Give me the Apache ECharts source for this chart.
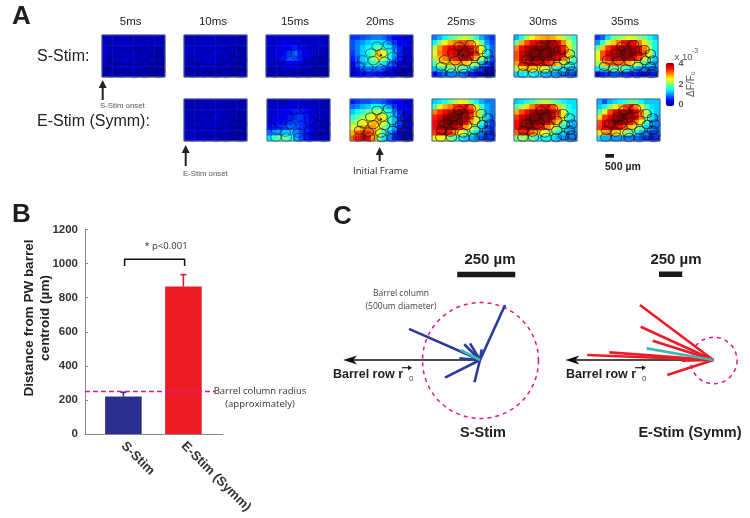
<!DOCTYPE html>
<html><head><meta charset="utf-8">
<style>html,body{margin:0;padding:0;background:#fff}#c{width:750px;height:518px}</style>
<script src="https://cdn.jsdelivr.net/npm/echarts@6/dist/echarts.min.js"></script>
</head><body><div id="c"></div>
<script>
// ---------- DATA ----------
const S05 = [
.2,.25,.2,.25,.25,.2,.25,.2,.25,.25,.2,.2,  .3,.2,.25,.25,.3,.25,.25,.25,.25,.2,.25,.2,
.3,.2,.25,.25,.3,.3,.25,.25,.25,.25,.25,.2,  .3,.25,.25,.3,.3,.3,.3,.25,.25,.25,.2,.2,
.25,.2,.25,.3,.3,.3,.25,.25,.25,.25,.2,.2,   .25,.2,.25,.25,.25,.25,.25,.25,.25,.2,.2,.2,
.2,.2,.25,.25,.25,.25,.25,.2,.2,.2,.2,.2,    .2,.2,.2,.2,.2,.2,.2,.2,.2,.2,.2,.2];
const S10 = [
.2,.2,.2,.25,.25,.25,.25,.25,.25,.2,.2,.2,   .25,.2,.25,.25,.3,.3,.3,.25,.25,.25,.2,.2,
.25,.25,.25,.3,.3,.3,.3,.3,.25,.25,.2,.2,    .25,.25,.3,.3,.3,.35,.35,.3,.25,.25,.2,.2,
.25,.25,.3,.3,.3,.35,.3,.25,.25,.25,.2,.2,   .25,.25,.25,.3,.3,.3,.25,.25,.25,.2,.2,.2,
.2,.2,.25,.25,.25,.25,.25,.25,.2,.2,.2,.2,   .2,.2,.2,.2,.2,.2,.2,.2,.2,.2,.2,.2];
const S15 = [
.3,.3,.3,.3,.3,.3,.3,.3,.3,.3,.2,.2,  .3,.3,.3,.4,.4,.4,.4,.3,.3,.3,.3,.2,
.3,.3,.4,.4,.5,.6,.5,.4,.3,.3,.3,.2,  .3,.3,.4,.5,.7,.9,.6,.5,.4,.3,.3,.2,
.3,.3,.4,.6,.8,.8,.6,.4,.3,.3,.2,.2,  .3,.3,.3,.4,.5,.5,.4,.3,.3,.2,.2,.2,
.2,.2,.3,.3,.3,.3,.3,.3,.2,.2,.2,.2,  .2,.2,.2,.2,.2,.2,.2,.2,.2,.2,.2,.2];
const S20 = [
.7,.7,.8,.9,1,1,.9,.7,.5,.4,.3,.3,         .8,1,1.1,1.3,1.4,1.4,1.3,1,.7,.5,.4,.3,
.8,1,1.3,1.5,1.7,1.9,1.7,1.4,1,.6,.4,.3,   .7,1,1.3,1.6,2,2.7,2.5,1.7,1.1,.7,.4,.3,
.6,.9,1.3,1.7,2.1,2.6,2.2,1.6,1,.6,.4,.3,  .4,.8,1.2,1.5,1.7,1.7,1.4,1,.7,.4,.3,.3,
.3,.6,.9,1,1,1,.8,.6,.4,.3,.3,.2,          .3,.4,.5,.6,.6,.5,.4,.3,.3,.2,.2,.2];
const S25 = [
1,1.2,1.5,1.8,2,2.2,2.3,2.1,1.7,1.2,.9,.7,      1.5,2,2.5,2.8,3,3.2,3.2,3,2.5,1.9,1.1,.8,
2.2,2.9,3.3,3.5,3.6,3.8,3.8,3.6,3.1,2.4,1.4,.9, 2.4,3,3.3,3.5,3.7,3.9,3.9,3.8,3.3,2.5,1.6,.9,
2.2,2.8,3,3.2,3.4,3.7,3.8,3.4,2.8,2.2,1.4,.8,   1.8,2.3,2.6,2.7,2.8,2.9,2.7,2.4,2,1.3,.9,.6,
1.2,1.6,1.8,1.9,2,1.9,1.7,1.4,1,.7,.5,.3,       .5,.7,.9,1,1,1,.8,.6,.5,.3,.2,.2];
const S30 = [
1.2,1.6,2.2,2.5,2.7,2.8,2.9,2.8,2.6,2.2,2,1.7,  1.9,2.8,3.2,3.5,3.6,3.8,3.9,3.8,3.5,3,2.3,1.8,
3,3.5,3.8,3.9,4,4,4,3.9,3.8,3.4,2.6,1.9,        3.2,3.7,3.9,4,4,4,4,4,3.8,3.5,2.7,1.9,
3.2,3.7,3.9,4,4,4,3.9,3.8,3.6,3.1,2.4,1.8,      2.9,3.4,3.6,3.7,3.7,3.6,3.4,3.1,2.7,2.2,1.8,1.5,
2.2,2.6,2.7,2.7,2.6,2.4,2.2,1.9,1.6,1.4,1.3,1.2,1.3,1.4,1.5,1.5,1.4,1.3,1.2,1.1,1,.9,.9,.8];
const S35 = [
.7,.9,1.4,1.9,2.1,2.2,2.4,2.3,2.1,1.9,1.6,1.3,  1.1,1.7,2.3,2.7,3,3.4,3.6,3.5,3,2.6,2,1.5,
1.9,2.7,3.3,3.6,3.8,3.9,3.9,3.8,3.6,3,2.2,1.5,  2.4,3.2,3.6,3.8,3.9,4,4,3.9,3.7,3.2,2.3,1.5,
2.4,3.2,3.5,3.7,3.8,3.9,3.8,3.6,3.2,2.6,1.9,1.3,2.1,2.7,2.9,3.1,3.1,3,2.8,2.4,2.1,1.7,1.4,1.1,
1.4,1.7,1.9,1.9,1.9,1.8,1.5,1.3,1.1,1,.9,.9,    .4,.6,.7,.8,.8,.7,.6,.6,.5,.5,.6,.6];
const E10 = [
.2,.2,.2,.2,.2,.2,.25,.2,.2,.2,.2,.2,      .2,.2,.2,.25,.25,.25,.25,.25,.2,.2,.2,.2,
.25,.2,.25,.25,.25,.3,.3,.25,.25,.2,.2,.2, .25,.25,.25,.25,.3,.3,.3,.25,.25,.2,.2,.2,
.25,.25,.25,.3,.3,.3,.3,.25,.25,.2,.2,.2,  .25,.25,.3,.3,.3,.3,.25,.25,.2,.2,.2,.2,
.3,.3,.3,.3,.3,.25,.25,.25,.2,.2,.2,.2,    .3,.3,.3,.3,.25,.25,.25,.2,.2,.2,.2,.2];
const E15 = [
.2,.2,.2,.2,.3,.3,.3,.3,.3,.2,.2,.2,       .3,.3,.3,.3,.4,.4,.4,.3,.3,.3,.2,.2,
.3,.3,.4,.5,.5,.6,.6,.5,.4,.3,.3,.2,       .3,.4,.4,.5,.6,.7,.7,.6,.4,.3,.3,.2,
.3,.4,.5,.6,.7,.8,.7,.6,.4,.3,.3,.2,       .5,.6,.7,.8,.9,.9,.7,.6,.4,.3,.3,.2,
.9,1.1,1.2,1.3,1.3,1,.8,.6,.4,.3,.3,.2,    1.4,1.7,1.9,1.9,1.7,1.2,.8,.6,.4,.3,.3,.3];
const E20 = [
.6,.7,.8,.8,.9,.9,.8,.6,.5,.4,.3,.3,            .9,1,1.2,1.3,1.5,1.5,1.3,1.1,.7,.5,.4,.3,
1.3,1.5,1.7,1.9,2.1,2.2,1.9,1.5,1.1,.6,.4,.3,   1.7,1.9,2.1,2.3,2.5,2.7,2.4,1.8,1.2,.7,.4,.3,
2,2.2,2.4,2.6,2.8,2.8,2.4,1.8,1.2,.7,.4,.3,     2.4,2.6,2.8,3,2.9,2.5,2,1.5,1.1,.6,.4,.3,
2.8,3.1,3.3,3.3,3,2.4,1.7,1.2,.8,.5,.4,.3,      3.1,3.5,3.7,3.6,2.9,2.1,1.4,1,.6,.5,.3,.3];
const E25 = [
1.3,1.4,1.6,1.9,2.2,2.4,2.3,1.9,1.5,1.2,1,1,    1.7,2.4,2.8,3,3.3,3.4,3.5,3.1,2.4,1.7,1.2,1,
3,3.3,3.5,3.7,3.9,4,3.9,3.5,2.7,2,1.2,1,        3.4,3.6,3.9,4,4,4,3.9,3.3,2.6,2,1.3,.9,
3.5,3.8,4,4,4,3.9,3.5,2.9,2.3,1.7,1.1,.7,       3.5,3.8,3.9,3.9,3.8,3.4,2.9,2.4,1.9,1.3,.9,.7,
3.3,3.5,3.6,3.4,2.9,2.5,2.1,1.8,1.4,1,.8,.6,    2.4,2.5,2.4,2.1,1.8,1.5,1.3,1.2,1,.8,.7,.7];
const E30 = [
1.3,1.4,1.6,1.8,2,2.2,2.2,2,1.8,1.5,1.4,1.4,    1.8,2.1,2.6,3,3.3,3.5,3.5,3.2,2.7,2.1,1.6,1.4,
2.8,3.2,3.5,3.8,3.9,4,4,3.7,3.3,2.4,1.7,1.5,    3.3,3.7,3.9,4,4,4,4,3.7,3.1,2.4,1.6,1.4,
3.5,3.8,4,4,4,3.9,3.7,3.2,2.7,2,1.4,1.2,        3.5,3.8,3.9,3.9,3.7,3.4,3,2.5,2,1.6,1.2,1.1,
3.1,3.4,3.4,3.1,2.8,2.5,2.2,1.9,1.5,1.3,1.1,1,  2,2.1,2.1,1.9,1.6,1.5,1.5,1.4,1.2,1.1,1,1];
const E35 = [
1.2,.8,1.2,1.4,1.5,1.7,1.9,1.9,1.5,1.3,1.3,1.3, 1.3,1.5,2,2.4,2.8,3.2,3.4,3,2.4,1.8,1.4,1.3,
1.8,2.5,3.2,3.6,3.8,3.9,3.9,3.6,3.1,2.2,1.5,1.3,2.6,3.3,3.6,3.9,4,4,3.9,3.6,3,2.1,1.4,1.1,
3.2,3.6,3.8,4,4,3.8,3.5,3,2.5,1.7,1.2,1,        3.3,3.6,3.7,3.7,3.5,3.1,2.7,2.2,1.8,1.3,1,.9,
2.6,2.8,2.9,2.7,2.4,2.1,1.9,1.6,1.2,1,.8,.8,    1.4,1.2,1.2,1.1,1.1,1,1,.9,.8,.7,.6,.7];

const timeLabels = ['5ms','10ms','15ms','20ms','25ms','30ms','35ms'];
// barrel centres, % of frame width / height from the top
const barrels = [[61,23],[43,27],[78,35],[88,45],[92,60],[33,43],[51,43],[68,51],[80,61],[88,75],[92,86],
  [20,59],[37,61],[55,63],[68,75],[79,87],[90,92],[15,75],[14,91],[29,79],[31,91],[49,81],[51,92],[67,92]];
const pwDot = [[49,48]];

const categories = ['S-Stim','E-Stim (Symm)'];
const distance = [220,865];
const errorTop = [245,935];
const barrelRadiusUm = 250;

const sVectors = [[108,237],[-306,134],[-68,68],[-43,72],[-151,-76],[-24,-96],[7,46],[-89,7]];
const sMean = [[-83,43]];
const eVectors = [[-789,591],[-781,358],[-652,208],[-1118,82],[-1355,54],[-495,-161],[-340,-7]];
const eMean = [[-717,125]];

// ---------- LAYOUT ----------
const frames = [
 {d:S05,x:102,y:35,f:1},{d:S10,x:184,y:35,f:1},{d:S15,x:266,y:35,f:1},{d:S20,x:350,y:35,f:.6,dot:1},
 {d:S25,x:432,y:35,f:0,dot:1},{d:S30,x:514,y:35,f:0},{d:S35,x:595,y:35,f:0},
 {d:E10,x:184,y:99,f:1},{d:E15,x:267,y:99,f:.7},{d:E20,x:350,y:99,f:0,dot:1},
 {d:E25,x:432,y:99,f:0},{d:E30,x:514,y:99,f:0},{d:E35,x:597,y:99,f:0}];
const FW=63, FH=42, NX=12, NY=8;
const xc=[...Array(NX).keys()].map(String), yc=[...Array(NY).keys()].map(String);

const grid=[], xAxis=[], yAxis=[], series=[], heatIdx=[];
const OB={outerBoundsMode:'none'};
frames.forEach(fr=>{
  const g0=grid.length;
  grid.push({...OB,left:fr.x,top:fr.y,width:FW,height:FH,z:0});
  xAxis.push({type:'category',gridIndex:g0,data:xc,show:false});
  yAxis.push({type:'category',gridIndex:g0,data:yc,inverse:true,show:false});
  heatIdx.push(series.length);
  const cells=[]; fr.d.forEach((v,i)=>cells.push([i%NX,Math.floor(i/NX),v]));
  series.push({type:'heatmap',xAxisIndex:g0,yAxisIndex:g0,data:cells,progressive:0,silent:true,z:1,
    itemStyle:{borderWidth:0},emphasis:{disabled:true}});
  const g1=grid.length;
  grid.push({...OB,left:fr.x,top:fr.y,width:FW,height:FH,show:true,backgroundColor:'transparent',borderColor:'#4f648c',borderWidth:1,z:5});
  xAxis.push({type:'value',gridIndex:g1,min:0,max:100,show:false});
  yAxis.push({type:'value',gridIndex:g1,min:0,max:100,inverse:true,show:false});
  series.push({type:'scatter',xAxisIndex:g1,yAxisIndex:g1,data:barrels,symbol:'circle',symbolSize:[10.5,8.5],silent:true,z:3,
    itemStyle:{color:'rgba(0,0,0,0)',borderColor:fr.f?`rgba(0,0,60,${0.75-0.4*fr.f})`:'rgba(20,20,20,.7)',borderWidth:.9,opacity:1}});
  if(fr.dot) series.push({type:'scatter',xAxisIndex:g1,yAxisIndex:g1,data:pwDot,symbol:'circle',symbolSize:2.5,silent:true,z:4,itemStyle:{color:'#111'}});
});

// Panel B
const gb=grid.length;
grid.push({...OB,left:85,top:229.5,width:138,height:204.5});
xAxis.push({type:'value',gridIndex:gb,min:-0.64,max:1.66,splitLine:{show:false},
  axisLine:{show:true,onZero:false,lineStyle:{color:'#8a8a8a',width:1}},axisTick:{show:false},
  axisLabel:{show:true,customValues:[0,1],rotate:-45,margin:10,formatter:v=>categories[Math.round(v)],
    fontFamily:'Liberation Sans',fontWeight:'bold',fontSize:13,color:'#333'}});
yAxis.push({type:'value',gridIndex:gb,min:0,max:1200,interval:200,splitLine:{show:false},
  axisLine:{show:true,onZero:false,lineStyle:{color:'#8a8a8a',width:1}},axisTick:{show:true,inside:true,length:3,lineStyle:{color:'#8a8a8a'}},
  axisLabel:{formatter:v=>String(v),fontFamily:'Liberation Sans',fontWeight:'bold',fontSize:11.5,color:'#333',margin:7}});
const barColors=['#2b3090','#ed1c24'];
series.push({type:'bar',xAxisIndex:gb,yAxisIndex:gb,barWidth:36.6,silent:true,z:2,
  data:distance.map((v,i)=>({value:[i,v],itemStyle:{color:barColors[i]}}))});
series.push({type:'custom',xAxisIndex:gb,yAxisIndex:gb,silent:true,z:3,
  data:errorTop.map((v,i)=>[i,distance[i],v]),
  renderItem:(p,api)=>{
    const a=api.coord([api.value(0),api.value(1)]), b=api.coord([api.value(0),api.value(2)]);
    const c=barColors[p.dataIndex], s={stroke:c,lineWidth:1.6};
    return {type:'group',children:[
      {type:'line',shape:{x1:a[0],y1:a[1],x2:b[0],y2:b[1]},style:s},
      {type:'line',shape:{x1:b[0]-3,y1:b[1],x2:b[0]+3,y2:b[1]},style:s}]};
  }});
series.push({type:'line',xAxisIndex:gb,yAxisIndex:gb,data:[[-0.64,barrelRadiusUm],[1.53,barrelRadiusUm]],symbol:'none',silent:true,z:4,
  lineStyle:{color:'#e5178f',width:1.5,type:[5,3]}});
series.push({type:'line',xAxisIndex:gb,yAxisIndex:gb,data:[[0.02,986],[0.02,1025],[1.02,1025],[1.02,986]],symbol:'none',silent:true,z:4,
  lineStyle:{color:'#111',width:1.5}});

// Panel C helper
function polarPanel(box,vecs,mean,color,arrowEnd,bar){
  const g=grid.length;
  grid.push({...OB,left:box.left,top:box.top,width:box.width,height:box.height});
  xAxis.push({type:'value',gridIndex:g,min:box.xr[0],max:box.xr[1],show:false});
  yAxis.push({type:'value',gridIndex:g,min:box.yr[0],max:box.yr[1],show:false});
  series.push({type:'custom',xAxisIndex:g,yAxisIndex:g,silent:true,z:2,clip:false,data:[[0,0,barrelRadiusUm]],
    renderItem:(p,api)=>{const c=api.coord([0,0]),r=api.size([api.value(2),0])[0];
      return {type:'circle',shape:{cx:c[0]+.5,cy:c[1]+.5,r},style:{fill:'none',stroke:'#e5178f',lineWidth:1.5,lineDash:[4,4]}};}});
  series.push({type:'custom',xAxisIndex:g,yAxisIndex:g,silent:true,z:3,clip:false,data:[[arrowEnd,0]],
    renderItem:(p,api)=>{const a=api.coord([0,0]),b=api.coord([api.value(0),0]);
      return {type:'group',children:[
        {type:'line',shape:{x1:a[0],y1:a[1],x2:b[0]+6,y2:b[1]},style:{stroke:'#111',lineWidth:1.5}},
        {type:'polygon',shape:{points:[[b[0],b[1]],[b[0]+14,b[1]-4.5],[b[0]+10,b[1]],[b[0]+14,b[1]+4.5]]},style:{fill:'#111'}}]};}});
  const seg=(c,w)=>(p,api)=>{const a=api.coord([0,0]),b=api.coord([api.value(0),api.value(1)]);
      return {type:'line',shape:{x1:a[0],y1:a[1],x2:b[0],y2:b[1]},style:{stroke:c,lineWidth:w}};};
  series.push({type:'custom',xAxisIndex:g,yAxisIndex:g,silent:true,z:4,clip:false,data:vecs,renderItem:seg(color,2.6)});
  series.push({type:'custom',xAxisIndex:g,yAxisIndex:g,silent:true,z:5,clip:false,data:mean,renderItem:seg('#3fb8af',2.6)});
  series.push({type:'line',xAxisIndex:g,yAxisIndex:g,data:bar,symbol:'none',silent:true,z:4,lineStyle:{color:'#1a1a1a',width:5.5,cap:'butt'}});
}
polarPanel({left:340.8,top:244,width:232,height:232,xr:[-600,400],yr:[-500,500]},sVectors,sMean,'#2b3a9a',-590,[[-98,369],[152,369]]);
polarPanel({left:545.9,top:267,width:195.3,height:148.8,xr:[-1800,300],yr:[-600,1000]},eVectors,eMean,'#ed1c24',-1590,[[-584,921],[-334,921]]);

// ---------- TEXT ----------
const AR='Liberation Sans', OS='Open Sans';
const T=(text,x,y,o={})=>({type:'text',x,y,rotation:o.rot||0,silent:true,z:20,style:{text,fill:o.c||'#222',
  font:`${o.b?'bold ':''}${o.s||11}px "${o.f||AR}"`,textAlign:o.a||'center',textVerticalAlign:'middle',lineHeight:o.lh}});
const xCentres=[130.7,213,295,380,461,543,625];
const graphic=[
 T('A',12,17,{s:26,b:1,a:'left',c:'#1d1d1d'}),T('B',12,215,{s:26,b:1,a:'left',c:'#1d1d1d'}),T('C',333,217,{s:26,b:1,a:'left',c:'#1d1d1d'}),
 ...timeLabels.map((t,i)=>T(t,xCentres[i],21.7,{s:11.5})),
 T('S-Stim:',37,57,{s:16,a:'left'}),T('E-Stim (Symm):',37,121.7,{s:16,a:'left'}),
 T('S-Stim onset',100,105.5,{s:7.8,a:'left',c:'#555'}),T('E-Stim onset',183,174,{s:7.8,a:'left',c:'#555'}),
 T('Initial Frame',380.5,171,{s:9.5,f:OS,c:'#222'}),T('500 µm',605,167,{s:10.5,b:1,a:'left',c:'#222'}),
 T('4',678.5,63.5,{s:9,b:1,a:'left',c:'#555'}),T('2',678.5,85,{s:9,b:1,a:'left',c:'#555'}),T('0',678.5,105,{s:9,b:1,a:'left',c:'#555'}),
 T('x 10',674.5,57,{s:9.5,a:'left',c:'#555'}),T('-3',692,51.5,{s:7,a:'left',c:'#555'}),
 T('ΔF/F₀',691.5,84,{s:10,rot:Math.PI/2,c:'#555'}),
 T('Distance from PW barrel',29,318,{s:13.5,b:1,rot:Math.PI/2}),T('centroid (µm)',45,318,{s:13.5,b:1,rot:Math.PI/2}),
 T('* p<0.001',166,246,{s:9.5,f:OS,c:'#333'}),
 T('Barrel column radius',260,391,{s:9.5,f:OS,c:'#333'}),T('(approximately)',260,404,{s:9.5,f:OS,c:'#333'}),
 T('Barrel column',401,294,{s:8.5,f:OS,c:'#444'}),T('(500um diameter)',401,307,{s:8.5,f:OS,c:'#444'}),
 T('250 µm',490,260,{s:15,b:1}),T('250 µm',676,260,{s:15,b:1}),
 T('Barrel row r',333,375,{s:12.5,b:1,a:'left'}),T('0',409,379,{s:8,a:'left',c:'#444'}),
 T('Barrel row r',566,375,{s:12.5,b:1,a:'left'}),T('0',642,379,{s:8,a:'left',c:'#444'}),
 T('S-Stim',483,433,{s:14.5,b:1}),T('E-Stim (Symm)',690,433,{s:14.5,b:1}),
];
const upArrow=(x,y1,y2)=>[{type:'line',silent:true,z:20,shape:{x1:x,y1:y1+6,x2:x,y2},style:{stroke:'#222',lineWidth:2}},
  {type:'polygon',silent:true,z:20,shape:{points:[[x,y1],[x-4,y1+8],[x+4,y1+8]]},style:{fill:'#222'}}];
const rArrow=(x1,x2,y)=>[{type:'line',silent:true,z:20,shape:{x1,y1:y,x2,y2:y},style:{stroke:'#222',lineWidth:1.2}},
  {type:'polygon',silent:true,z:20,shape:{points:[[x2+1,y],[x2-3,y-2.5],[x2-3,y+2.5]]},style:{fill:'#222'}}];
graphic.push(...upArrow(102.7,80,100),...upArrow(185.7,145,166),...upArrow(379.7,147,161),
  {type:'rect',silent:true,z:20,shape:{x:605.3,y:154,width:8.7,height:3.7},style:{fill:'#1a1a1a'}},
  ...rArrow(402,411,367.7),...rArrow(635,645,367.7));

const chart=echarts.init(document.getElementById('c'),null,{renderer:'canvas'});
chart.setOption({animation:false,backgroundColor:'#fff',grid,xAxis,yAxis,series,graphic,
  visualMap:[{type:'continuous',min:0,max:4,seriesIndex:heatIdx,show:true,calculable:false,hoverLink:false,
    left:665.7,top:62.7,itemWidth:8.6,itemHeight:43.3,padding:0,text:null,showLabel:false,
    textStyle:{fontSize:0,color:'transparent'},formatter:()=>'',
    inRange:{color:['#00007f','#0000ff','#007fff','#00ffff','#7fff7f','#ffff00','#ff7f00','#ff0000','#7f0000']}}]});
</script></body></html>
